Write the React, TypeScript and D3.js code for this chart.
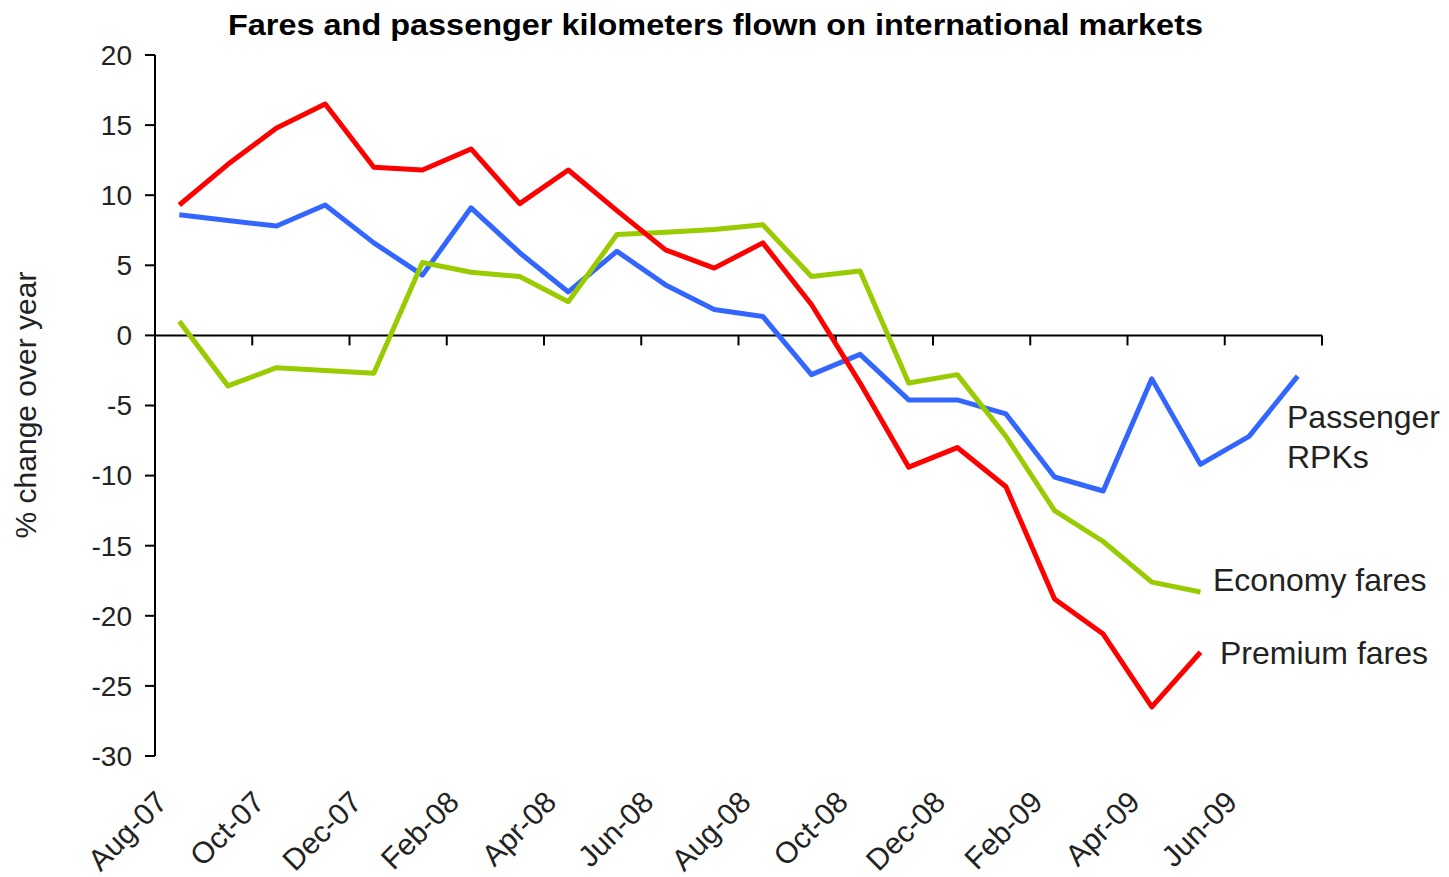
import React from "react";
import * as d3 from "d3";

const months: string[] = [
  "Aug-07", "Sep-07", "Oct-07", "Nov-07", "Dec-07", "Jan-08", "Feb-08", "Mar-08",
  "Apr-08", "May-08", "Jun-08", "Jul-08", "Aug-08", "Sep-08", "Oct-08", "Nov-08",
  "Dec-08", "Jan-09", "Feb-09", "Mar-09", "Apr-09", "May-09", "Jun-09", "Jul-09",
];

const premiumFares: number[] = [
  9.3, 12.2, 14.8, 16.5, 12.0, 11.8, 13.3, 9.4, 11.8, 8.9, 6.1, 4.8,
  6.6, 2.2, -3.4, -9.4, -8.0, -10.8, -18.8, -21.3, -26.5, -22.6,
];

const economyFares: number[] = [
  1.0, -3.6, -2.3, -2.5, -2.7, 5.2, 4.5, 4.2, 2.4, 7.2, 7.35, 7.55,
  7.9, 4.2, 4.6, -3.4, -2.8, -7.2, -12.5, -14.7, -17.6, -18.3,
];

const passengerRPKs: number[] = [
  8.6, 8.2, 7.8, 9.3, 6.6, 4.3, 9.1, 5.9, 3.1, 6.0, 3.6, 1.85,
  1.35, -2.8, -1.35, -4.6, -4.6, -5.6, -10.1, -11.1, -3.1, -9.2, -7.2, -2.9,
];

const yTicks: number[] = [20, 15, 10, 5, 0, -5, -10, -15, -20, -25, -30];

const W = 1449;
const H = 877;
const FONT = "'Liberation Sans', Arial, sans-serif";

export default function App() {
  const x = d3.scaleBand<string>().domain(months).range([155, 1322]).paddingInner(0).paddingOuter(0);
  const y = d3.scaleLinear().domain([-30, 20]).range([756, 55]);
  const cx = (i: number) => (x(months[i]) as number) + x.bandwidth() / 2;

  const line = d3
    .line<number>()
    .x((_, i) => cx(i))
    .y((d) => y(d));

  const y0 = y(0);
  const xAxisEnd = x.range()[1];
  const tickIdx = months.map((_, i) => i).filter((i) => i % 2 === 0);

  const series = [
    { name: "RPK", values: passengerRPKs, color: "#3366ff" },
    { name: "Economy", values: economyFares, color: "#99cc00" },
    { name: "Premium", values: premiumFares, color: "#ff0000" },
  ];

  return (
    <svg
      width={W}
      height={H}
      style={{ position: "absolute", left: 0, top: 0, background: "#fff" }}
      fontFamily={FONT}
    >
      <rect x={0} y={0} width={W} height={H} fill="#fff" />
      <text
        x={228}
        y={35}
        fontSize={29}
        fontWeight="bold"
        textLength={975}
        lengthAdjust="spacingAndGlyphs"
        fill="#000"
      >
        Fares and passenger kilometers flown on international markets
      </text>

      {/* y axis */}
      <line x1={155} x2={155} y1={y(20)} y2={y(-30)} stroke="#000" strokeWidth={2} />
      {yTicks.map((t) => (
        <g key={t}>
          <line x1={145} x2={155} y1={y(t)} y2={y(t)} stroke="#000" strokeWidth={2} />
          <text x={132} y={y(t)} dy="0.35em" textAnchor="end" fontSize={28} fill="#222">
            {t}
          </text>
        </g>
      ))}
      <text
        transform={`translate(36,405) rotate(-90)`}
        textAnchor="middle"
        fontSize={30}
        fill="#222"
      >
        % change over year
      </text>

      {/* x axis at zero */}
      <line x1={155} x2={xAxisEnd} y1={y0} y2={y0} stroke="#000" strokeWidth={2} />
      {tickIdx.map((i) => {
        const tx = x(months[i]) as number;
        return (
          <g key={months[i]}>
            {i > 0 && <line x1={tx} x2={tx} y1={y0} y2={y0 + 10} stroke="#000" strokeWidth={2} />}
            <text
              transform={`translate(${tx + 14},804) rotate(-45)`}
              textAnchor="end"
              fontSize={30}
              fill="#222"
            >
              {months[i]}
            </text>
          </g>
        );
      })}
      <line x1={xAxisEnd} x2={xAxisEnd} y1={y0} y2={y0 + 10} stroke="#000" strokeWidth={2} />

      {/* lines */}
      {series.map((s) => (
        <path
          key={s.name}
          d={line(s.values) as string}
          fill="none"
          stroke={s.color}
          strokeWidth={5}
          strokeLinejoin="round"
        />
      ))}

      {/* labels */}
      <text x={1287} y={428} fontSize={32} fill="#222">Passenger</text>
      <text x={1287} y={468} fontSize={32} fill="#222">RPKs</text>
      <text x={1213} y={591} fontSize={32} fill="#222">Economy fares</text>
      <text x={1220} y={664} fontSize={32} fill="#222">Premium fares</text>
    </svg>
  );
}
